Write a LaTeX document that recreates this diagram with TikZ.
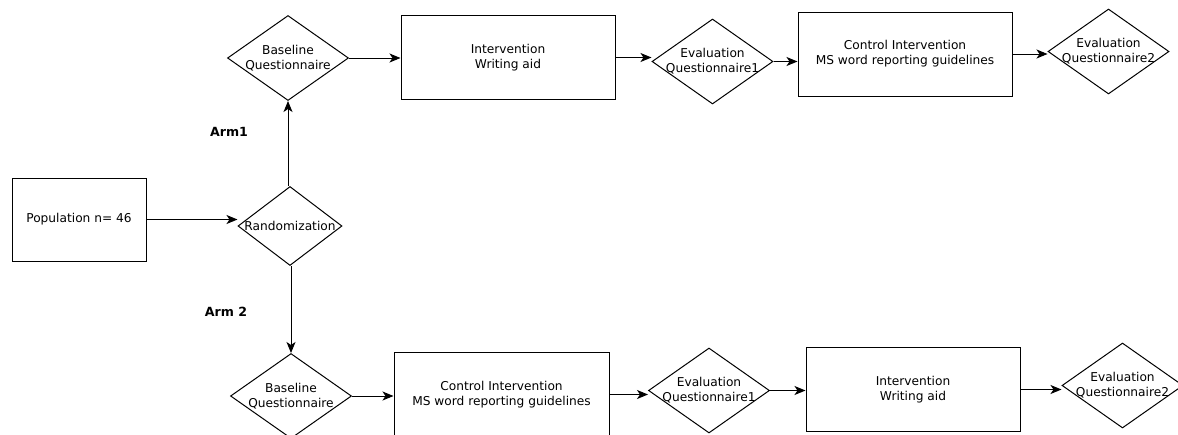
\documentclass[tikz,border=0pt]{standalone}
\usepackage{fontspec}
\setmainfont{DejaVu Sans}
\usepackage{tikz}
\usetikzlibrary{arrows.meta}
\usetikzlibrary{shapes.geometric}
\usetikzlibrary{positioning}
\begin{document}
\begin{tikzpicture}[x=1pt,y=-1pt,line width=1pt,>={Stealth[length=11pt,width=9pt,inset=3pt]},
  every node/.style={font=\fontsize{12.2}{15}\selectfont,align=center},
  box/.style={draw,rectangle,minimum width=214pt,minimum height=84pt,inner sep=0pt},
  dec/.style={draw,diamond,minimum width=121pt,minimum height=85pt,inner sep=0pt},
  arm/.style={font=\fontsize{12.6}{15}\selectfont\bfseries}]
  \useasboundingbox (0,0) rectangle (1178,434);
  \clip (0,0) rectangle (1178,434);
  \node[box,minimum width=134pt,minimum height=83pt] (1) at (79,219.5) {Population n= 46};
  \node[dec,minimum width=104pt,minimum height=79pt,label=center:Randomization] (2) at (290,226) {};
  \node[dec,label={center:{Baseline\\Questionnaire}}] (3) at (288,58) {};
  \node[box] (4) at (508,57.5) {Intervention\\Writing aid};
  \node[dec,label={center:{Evaluation\\Questionnaire1}}] (5) at (712.5,61.5) {};
  \node[box] (6) at (905,54) {Control Intervention\\MS word reporting guidelines};
  \node[dec,label={center:{Evaluation\\Questionnaire2}}] (7) at (1108.5,51.5) {};

  \node[dec,label={center:{Baseline\\Questionnaire}}] (8) at (291,396) {};
  \node[box,minimum width=215pt] (9) at (501.5,394.5) {Control Intervention\\MS word reporting guidelines};
  \node[dec,label={center:{Evaluation\\Questionnaire1}}] (10) at (709,390.5) {};
  \node[box] (11) at (913,389.5) {Intervention\\Writing aid};
  \node[dec,label={center:{Evaluation\\Questionnaire2}}] (12) at (1122.5,385.5) {};

  \node[arm] (arm1) at (229,132) {Arm1};
  \node[arm] (arm2) at (226,312) {Arm 2};

  \draw[->](1.east)--(1.east -| 2.west);
  \draw[->](3.south |- 2.north)--(3.south);
  \draw[->](8.north |- 2.south)--(8.north);
  \draw[->](3.east)--(3.east -| 4.west);
  \draw[->](4.east)--(4.east -| 5.west);
  \draw[->](5.east)--(5.east -| 6.west);
  \draw[->](6.east)--(6.east -| 7.west);
  \draw[->](8.east)--(8.east -| 9.west);
  \draw[->](9.east)--(9.east -| 10.west);
  \draw[->](10.east)--(10.east -| 11.west);
  \draw[->](11.east)--(11.east -| 12.west);
\end{tikzpicture}
\end{document}
